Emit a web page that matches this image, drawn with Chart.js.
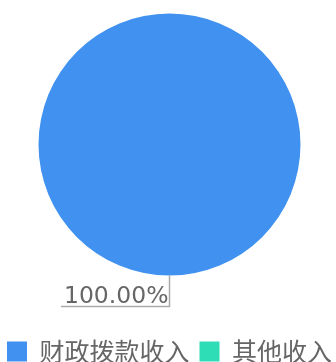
<!DOCTYPE html>
<html>
<head>
<meta charset="utf-8">
<script src="https://cdn.jsdelivr.net/npm/chart.js@4"></script>
<style>
  html, body { margin: 0; padding: 0; overflow: hidden; background: #fff; }
  #wrap { position: relative; width: 347px; height: 414px; margin-left: -4.5px; margin-top: -40px; }
</style>
</head>
<body>
<div id="wrap"><canvas id="pie"></canvas></div>
<script>
const categories = ['财政拨款收入', '其他收入'];
const values = [100, 0];
const colors = ['#4192f0', '#2edcb6'];

// draws "xx.xx%" with a bent leader line for every non-empty slice
const sliceLabels = {
    id: 'sliceLabels',
    afterDatasetsDraw(chart) {
        const ctx = chart.ctx;
        const meta = chart.getDatasetMeta(0);
        const data = chart.data.datasets[0].data;
        const total = data.reduce((a, b) => a + b, 0);
        meta.data.forEach((arc, i) => {
            if (!data[i]) return;
            const p = arc.getProps(['x', 'y', 'startAngle', 'endAngle', 'outerRadius'], true);
            const mid = (p.startAngle + p.endAngle) / 2;
            const cos = Math.cos(mid), sin = Math.sin(mid);
            const x0 = p.x + cos * p.outerRadius, y0 = p.y + sin * p.outerRadius;
            const x1 = p.x + cos * (p.outerRadius + 31), y1 = p.y + sin * (p.outerRadius + 31);
            const dir = cos > 1e-6 ? 1 : -1;
            const text = (data[i] / total * 100).toFixed(2) + '%';
            ctx.save();
            ctx.font = '23.5px "DejaVu Sans"';
            const w = ctx.measureText(text).width;
            ctx.strokeStyle = '#aaaaaa';
            ctx.lineWidth = 1.5;
            ctx.beginPath();
            ctx.moveTo(x0, y0);
            ctx.lineTo(x1, y1);
            ctx.lineTo(x1 + dir * (w + 4), y1);
            ctx.stroke();
            ctx.fillStyle = '#666666';
            ctx.textAlign = dir > 0 ? 'left' : 'right';
            ctx.textBaseline = 'bottom';
            ctx.fillText(text, x1 + dir, y1 + 2);
            ctx.restore();
        });
    }
};

new Chart(document.getElementById('pie'), {
    type: 'pie',
    data: {
        labels: categories,
        datasets: [{
            data: values,
            backgroundColor: colors,
            borderWidth: 0,
            radius: 131
        }]
    },
    options: {
        responsive: true,
        maintainAspectRatio: false,
        animation: false,
        layout: { padding: 0 },
        plugins: {
            tooltip: { enabled: false },
            legend: {
                position: 'bottom',
                labels: {
                    boxWidth: 20,
                    boxHeight: 20,
                    padding: 10,
                    color: '#666666',
                    font: { size: 25, family: '"Noto Sans CJK SC", sans-serif' }
                }
            }
        }
    },
    plugins: [sliceLabels]
});
</script>
</body>
</html>
